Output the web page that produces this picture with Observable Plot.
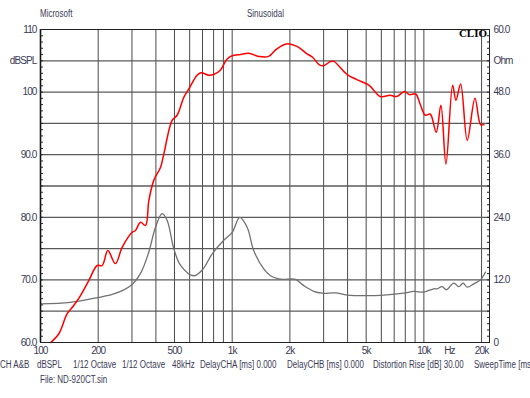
<!DOCTYPE html>
<html><head><meta charset="utf-8">
<script src="https://cdn.jsdelivr.net/npm/d3@7"></script>
<script src="https://cdn.jsdelivr.net/npm/@observablehq/plot@0.6"></script>
<style>
body{margin:0;background:#fff;}
#chart{position:relative;width:530px;height:398px;overflow:hidden;font-family:"Liberation Sans",Arial,sans-serif;}
.lbl{position:absolute;font-size:10px;color:#3a3a55;white-space:pre;line-height:10px;transform:scaleX(0.8);transform-origin:0 50%;}
.clio{position:absolute;font-family:"Liberation Serif","DejaVu Serif",serif;font-weight:bold;font-size:11px;color:#000;line-height:11px;}
svg text{letter-spacing:-0.9px;}
</style></head><body><div id="chart"></div>
<script>
// SPL response (left axis, dBSPL)
const splFreq = [113,124.6,137.8,149,161.7,178.6,197.6,209.9,224.5,246,266.7,300.7,313,332.6,353,367.6,390,423,440,486,516,560,594,656,688,755,800,867,941,1000,1105,1220,1377,1550,1710,1918,2180,2460,2620,2840,2990,3260,3390,3980,4470,5170,5920,6670,7220,7930,8400,9060,9560,10180,10790,11600,12270,13040,14130,14700,15550,16840,18480,19770,20580];
const splDb = [60.0,61.4,64.6,65.9,67.5,69.9,72.3,72.3,74.7,72.6,75.2,77.6,77.9,79.2,78.7,82.7,85.9,88.0,90.1,95.5,96.3,99.2,100.5,102.7,103.1,102.7,102.8,103.5,105.3,105.8,106.0,106.2,105.7,105.7,106.9,107.7,107.3,106.1,105.6,104.4,104.2,104.9,104.9,102.8,102.0,101.1,99.3,99.5,99.3,100.1,99.6,99.7,98.1,96.3,96.5,93.6,97.9,88.5,101.1,98.7,101.3,92.3,99.0,94.8,94.8];
// Impedance (right axis, Ohm)
const impFreq = [100,143,198,241,295,332,367,398,431,458,496,538,630,698,787,904,1000,1095,1197,1296,1461,1584,1750,1859,2140,2363,2665,2948,3458,3980,5060,6180,7850,8860,9990,11260,11730,12460,13120,14320,15210,16030,16820,18210,19740,20960];
const impOhm = [7.4,7.7,8.6,9.3,10.9,13.2,17.3,22.1,24.7,23.4,18.0,14.8,12.8,13.9,17.0,19.6,21.1,24.0,22.1,17.6,14.1,12.8,12.2,12.1,12.1,10.9,9.8,9.45,9.5,9.1,9.0,9.1,9.45,9.8,9.65,10.3,10.3,10.7,10.1,11.4,10.7,11.4,10.6,11.25,12.0,13.5];

const gridFreq = [200,300,400,500,600,700,800,900,1000,2000,3000,4000,5000,6000,7000,8000,9000,10000,20000];
const gridDb = [65,70,75,80,85,90,95,100,105];
const xTickValues = [100,200,500,1000,2000,5000,10000,13600,20000];
const xTickLabels = ["100","200","500","1k","2k","5k","10k","Hz","20k"];
const leftTickValues = [60,70,80,90,100,105,110];
const leftTickLabels = ["60.0","70.0","80.0","90.0","100","dBSPL","110"];
const rightTickLabels = ["0","12.0","24.0","36.0","48.0","Ohm","60.0"];
const minorDb = d3.range(60,111,1);
const headerTexts = ["Microsoft","Sinusoidal"];
const footerTexts = ["CH A&B","dBSPL","1/12 Octave","1/12 Octave","48kHz","DelayCHA [ms] 0.000","DelayCHB [ms] 0.000","Distortion Rise [dB] 30.00","SweepTime [ms] 0.000"];
const fileText = "File: ND-920CT.sin";

const spl = splFreq.map((f,i)=>({f, v: splDb[i]}));
const imp = impFreq.map((f,i)=>({f, v: impOhm[i]}));
const ohmToDb = o => 60 + o/1.2;
const xMap = new Map(xTickValues.map((v,i)=>[v,xTickLabels[i]]));
const lMap = new Map(leftTickValues.map((v,i)=>[v,leftTickLabels[i]]));
const rMap = new Map(leftTickValues.map((v,i)=>[v,rightTickLabels[i]]));
const font = '"Liberation Sans",Arial,sans-serif';

const plot = Plot.plot({
  width:530, height:398, marginTop:29, marginBottom:56, marginLeft:40, marginRight:41,
  style:{fontFamily:font, fontSize:"10px", color:"#3a3a55", background:"#fff"},
  x:{type:"log", domain:[100,22000], label:null},
  y:{domain:[60,110], label:null},
  marks:[
    Plot.ruleX(gridFreq,{stroke:"#4a4a4a", strokeWidth:1}),
    Plot.ruleY(gridDb,{stroke:"#5a5a5a", strokeWidth:1.3}),
    Plot.line(imp,{x:"f", y:d=>ohmToDb(d.v), stroke:"#707070", strokeWidth:1.3, curve:"catmull-rom"}),
    Plot.line(spl,{x:"f", y:"v", stroke:"#ff0000", strokeWidth:1.5, curve:"catmull-rom"}),
    Plot.frame({stroke:"#222", strokeWidth:1}),
    Plot.ruleX([100],{stroke:"#111", strokeWidth:1.6}),
    Plot.axisX({ticks:xTickValues, tickFormat:d=>xMap.get(d), tickSize:0, tickPadding:4, label:null}),
    Plot.axisY({anchor:"left", ticks:leftTickValues, tickFormat:d=>lMap.get(d), tickSize:0, tickPadding:4, label:null}),
    Plot.axisY({anchor:"right", ticks:leftTickValues, tickFormat:d=>rMap.get(d), tickSize:0, tickPadding:4, label:null}),
    Plot.axisY({anchor:"left", ticks:minorDb, tickFormat:()=>"", tickSize:3, dx:3, stroke:"#222", label:null}),
    Plot.axisY({anchor:"right", ticks:minorDb, tickFormat:()=>"", tickSize:3, dx:-3, stroke:"#222", label:null})
  ]
});
const chart = document.getElementById("chart");
chart.appendChild(plot);

function addLabel(text, left, top, cls){
  const d = document.createElement("div");
  d.className = cls || "lbl";
  d.textContent = text;
  d.style.left = left + "px";
  d.style.top = top + "px";
  chart.appendChild(d);
  return d;
}
const headerLeft = [40, 246.7];
headerTexts.forEach((t,i)=>addLabel(t, headerLeft[i], 9));
const footerLeft = [0, 36.7, 72.7, 122.3, 171.7, 200, 286.7, 373.3, 474.3];
footerTexts.forEach((t,i)=>addLabel(t, footerLeft[i], 360));
addLabel(fileText, 40, 375);
const c = addLabel("CLIO", 0, 28, "clio");
c.style.left = ""; c.style.right = "43px";
</script></body></html>
